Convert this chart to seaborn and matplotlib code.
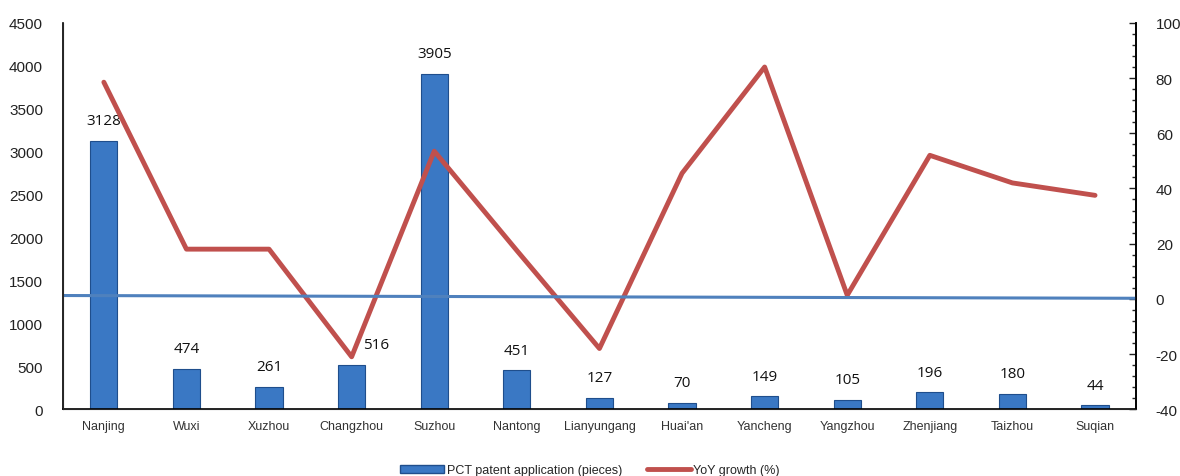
import pandas as pd
import numpy as np
import matplotlib.pyplot as plt
import seaborn as sns
from matplotlib.ticker import MultipleLocator
from matplotlib.patches import Patch
from matplotlib.lines import Line2D

# data
cities = ['Nanjing', 'Wuxi', 'Xuzhou', 'Changzhou', 'Suzhou', 'Nantong', 'Lianyungang',
          "Huai'an", 'Yancheng', 'Yangzhou', 'Zhenjiang', 'Taizhou', 'Suqian']
pct_apps = [3128, 474, 261, 516, 3905, 451, 127, 70, 149, 105, 196, 180, 44]
yoy_growth = [78.5, 18, 18, -21, 53.5, 17.5, -18, 45.5, 84, 1.3, 52, 42, 37.5]
ref_line = [1.2, 0.2]  # the pale blue near-zero line (slightly tilted)

df = pd.DataFrame({'city': cities, 'apps': pct_apps, 'yoy': yoy_growth})

sns.set_style('white')
plt.rcParams['font.family'] = ['Liberation Sans', 'DejaVu Sans']
plt.rcParams['axes.unicode_minus'] = False

fig = plt.figure(figsize=(11.8, 4.77), dpi=100)
ax = fig.add_axes([0.053, 0.140, 0.910, 0.810])

sns.barplot(data=df, x='city', y='apps', ax=ax, color='#3A78C4', width=0.33,
            edgecolor='#1F4E8C', linewidth=0.8, saturation=1)
ax.set_ylim(0, 4500)
ax.set_xlim(-0.5, 12.5)
ax.set_xlabel('')
ax.set_ylabel('')
ax.yaxis.set_major_locator(MultipleLocator(500))
ax.tick_params(axis='y', length=0, labelsize=11, colors='#222222', pad=14)
ax.tick_params(axis='x', length=0, labelsize=9, colors='#333333', pad=8)

for i, v in enumerate(pct_apps):
    dx = 0.3 if cities[i] == 'Changzhou' else 0
    ax.text(i + dx, v + 150, str(v), ha='center', va='bottom', fontsize=11,
            family=['Open Sans', 'DejaVu Sans'], color='#111111')

ax.spines['top'].set_visible(False)
for s in ['left', 'bottom', 'right']:
    ax.spines[s].set_color('black')
    ax.spines[s].set_linewidth(1.2)

ax2 = ax.twinx()
sns.lineplot(data=df, x='city', y='yoy', ax=ax2, color='#C0504D', linewidth=3.5,
             sort=False)
ax2.plot([-0.5, 12.5], ref_line, color='#4F81BD', linewidth=2.2)
ax2.set_ylim(-40, 100)
ax2.set_xlim(-0.5, 12.5)
ax2.set_ylabel('')
ax2.yaxis.set_major_locator(MultipleLocator(20))
ax2.yaxis.set_minor_locator(MultipleLocator(4))
ax2.tick_params(axis='y', which='major', direction='in', length=5, width=1,
                labelsize=11, colors='#222222', pad=14)
ax2.tick_params(axis='y', which='minor', direction='in', length=3, width=1)
ax2.spines['top'].set_visible(False)
ax2.spines['right'].set_color('black')
ax2.spines['right'].set_linewidth(1.2)

handles = [Patch(facecolor='#3A78C4', edgecolor='#1F4E8C'),
           Line2D([0], [0], color='#C0504D', linewidth=3.5)]
fig.legend(handles, ['PCT patent application (pieces)', 'YoY growth (%)'],
           loc='center', bbox_to_anchor=(0.5, 0.012), ncol=2, frameon=False,
           fontsize=9, handlelength=3.5, handletextpad=0.2, columnspacing=2)

fig.savefig('out.png', dpi=100)
